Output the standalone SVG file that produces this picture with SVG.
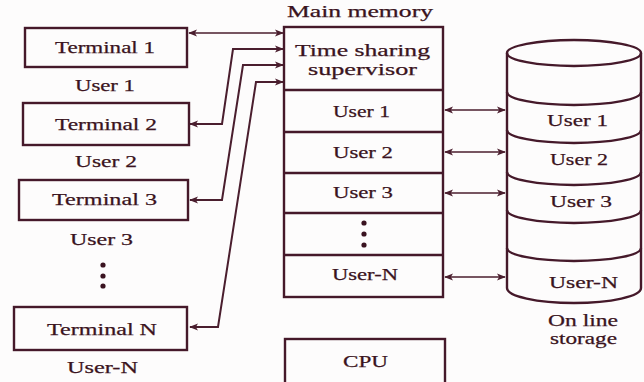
<svg xmlns="http://www.w3.org/2000/svg" width="644" height="382" viewBox="0 0 644 382">
<style>
.bx{fill:none;stroke:#45192a;stroke-width:2.4}
.ln{fill:none;stroke:#4a1e2e;stroke-width:2}
.cn{fill:none;stroke:#4a1e2e;stroke-width:1.6}
text{font-family:"Liberation Serif","Times New Roman",serif;font-size:17px;fill:#3a1320;stroke:#3a1320;stroke-width:0.25}
.dot{fill:#3a1320}
</style>
<defs>
<marker id="ah" viewBox="0 0 10 10" refX="9" refY="5" markerWidth="9" markerHeight="9" markerUnits="userSpaceOnUse" orient="auto-start-reverse">
<path d="M0,1 L10,5 L0,9 L2.5,5 Z" fill="#4a1e2e"/>
</marker>
</defs>
<rect width="644" height="382" fill="#fdfcfc"/>

<g id="terminal1">
<rect class="bx" x="25" y="28" width="162" height="39"/>
<text x="55" y="53" textLength="100" lengthAdjust="spacingAndGlyphs">Terminal 1</text>
</g>
<text x="75" y="91" textLength="60" lengthAdjust="spacingAndGlyphs">User 1</text>
<g id="terminal2">
<rect class="bx" x="23" y="103" width="166" height="42"/>
<text x="55" y="130" textLength="102" lengthAdjust="spacingAndGlyphs">Terminal 2</text>
</g>
<text x="75" y="167" textLength="62" lengthAdjust="spacingAndGlyphs">User 2</text>
<g id="terminal3">
<rect class="bx" x="19" y="180" width="169" height="40"/>
<text x="52" y="205" textLength="105" lengthAdjust="spacingAndGlyphs">Terminal 3</text>
</g>
<text x="70" y="245" textLength="63" lengthAdjust="spacingAndGlyphs">User 3</text>
<g id="dotsLeft">
<circle class="dot" cx="103" cy="265" r="2.6"/>
<circle class="dot" cx="103" cy="276" r="2.6"/>
<circle class="dot" cx="103" cy="286" r="2.6"/>
</g>
<g id="terminalN">
<rect class="bx" x="14" y="307" width="173" height="43"/>
<text x="47" y="335" textLength="110" lengthAdjust="spacingAndGlyphs">Terminal N</text>
</g>
<text x="67" y="373" textLength="71" lengthAdjust="spacingAndGlyphs">User-N</text>

<g id="mainMemory">
<text x="287" y="17" textLength="146" lengthAdjust="spacingAndGlyphs">Main memory</text>
<rect class="bx" x="284" y="27" width="159" height="270"/>
<line class="bx" x1="284" y1="90" x2="443" y2="90"/>
<line class="bx" x1="284" y1="132" x2="443" y2="132"/>
<line class="bx" x1="284" y1="173" x2="443" y2="173"/>
<line class="bx" x1="284" y1="213" x2="443" y2="213"/>
<line class="bx" x1="284" y1="255" x2="443" y2="255"/>
<text x="295" y="56" font-size="17" textLength="135" lengthAdjust="spacingAndGlyphs">Time sharing</text>
<text x="308" y="75" font-size="17" textLength="109" lengthAdjust="spacingAndGlyphs">supervisor</text>
<text x="333" y="117" textLength="57" lengthAdjust="spacingAndGlyphs">User 1</text>
<text x="333" y="158" textLength="60" lengthAdjust="spacingAndGlyphs">User 2</text>
<text x="333" y="198" textLength="60" lengthAdjust="spacingAndGlyphs">User 3</text>
<circle class="dot" cx="364" cy="223" r="2.6"/>
<circle class="dot" cx="364" cy="234" r="2.6"/>
<circle class="dot" cx="364" cy="245" r="2.6"/>
<text x="332" y="280" textLength="66" lengthAdjust="spacingAndGlyphs">User-N</text>
</g>

<g id="cpu">
<rect class="bx" x="285" y="339" width="160" height="50"/>
<text x="343" y="367" textLength="45" lengthAdjust="spacingAndGlyphs">CPU</text>
</g>

<g id="storage">
<ellipse class="bx" cx="574" cy="53" rx="67" ry="13"/>
<line class="bx" x1="507" y1="53" x2="507" y2="288"/>
<line class="bx" x1="641" y1="53" x2="641" y2="288"/>
<path class="bx" d="M507,92 A67,13 0 0 0 641,92"/>
<path class="bx" d="M507,130 A67,13 0 0 0 641,130"/>
<path class="bx" d="M507,172 A67,13 0 0 0 641,172"/>
<path class="bx" d="M507,210 A67,13 0 0 0 641,210"/>
<path class="bx" d="M507,248 A67,13 0 0 0 641,248"/>
<path class="bx" d="M507,288 A67,15 0 0 0 641,288"/>
<text x="547" y="126" textLength="61" lengthAdjust="spacingAndGlyphs">User 1</text>
<text x="550" y="165" textLength="58" lengthAdjust="spacingAndGlyphs">User 2</text>
<text x="550" y="207" textLength="62" lengthAdjust="spacingAndGlyphs">User 3</text>
<text x="549" y="288" textLength="69" lengthAdjust="spacingAndGlyphs">User-N</text>
<text x="548" y="326" font-size="15" textLength="70" lengthAdjust="spacingAndGlyphs">On line</text>
<text x="550" y="344" font-size="15" textLength="67" lengthAdjust="spacingAndGlyphs">storage</text>
</g>

<g id="connectors">
<path class="cn" d="M189,33 L283,33" marker-start="url(#ah)" marker-end="url(#ah)"/>
<path class="ln" d="M190,124 L222,124 L233,49 L283,49" marker-start="url(#ah)" marker-end="url(#ah)"/>
<path class="ln" d="M190,200 L222,200 L243,65 L283,65" marker-start="url(#ah)" marker-end="url(#ah)"/>
<path class="ln" d="M190,327 L218,327 L256,82 L283,82" marker-start="url(#ah)" marker-end="url(#ah)"/>
<path class="cn" d="M445,110 L505,110" marker-start="url(#ah)" marker-end="url(#ah)"/>
<path class="cn" d="M445,152 L505,152" marker-start="url(#ah)" marker-end="url(#ah)"/>
<path class="cn" d="M445,193 L505,193" marker-start="url(#ah)" marker-end="url(#ah)"/>
<path class="cn" d="M445,277 L505,277" marker-start="url(#ah)" marker-end="url(#ah)"/>
</g>
</svg>
